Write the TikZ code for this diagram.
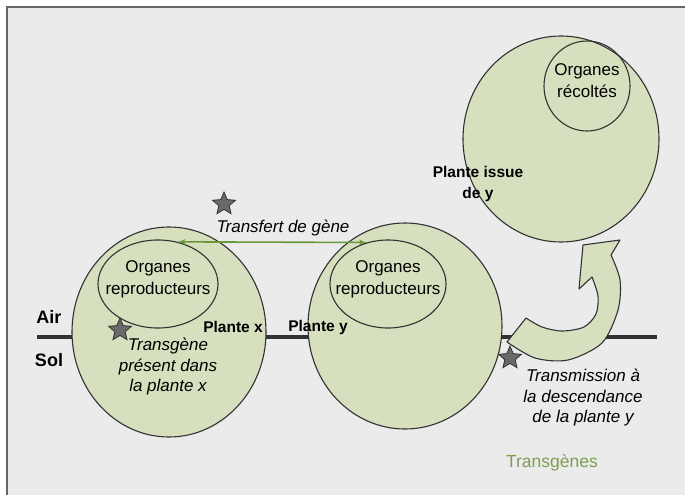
\documentclass[tikz,border=0pt]{standalone}
\usepackage{fontspec}
\setmainfont{Liberation Sans}
\usetikzlibrary{shapes,arrows,positioning,backgrounds,calc}
\definecolor{bggray}{RGB}{235,235,235}
\definecolor{leaf}{RGB}{214,223,190}
\definecolor{ink}{RGB}{50,50,50}
\definecolor{genegreen}{RGB}{104,152,56}
\definecolor{tgreen}{RGB}{125,160,80}
\definecolor{stargray}{RGB}{105,105,105}
\newcommand{\plantsz}{17}
\newcommand{\mplant}[4]{
  \node [plantbody,minimum width=#2,minimum height=#3] (#4) at #1 {};
}
\newcommand{\morgan}[5]{
  \node [organbody,minimum width=#2,minimum height=#3] (#4) at #1 {};
  \node [organtext] (#4t) at ($(#4)+(0,-5)$) {#5};
}

\begin{document}
\begin{tikzpicture}[x=1pt,y=-1pt,>=latex',
  plantbody/.style={ellipse,draw=ink,fill=leaf,line width=1.1pt,inner sep=0},
  organbody/.style={ellipse,draw=ink,line width=1.1pt,inner sep=0},
  organtext/.style={align=center,font=\fontsize{\plantsz}{22}\selectfont},
  boldlbl/.style={align=center,font=\bfseries\fontsize{15.5}{21}\selectfont},
  itlbl/.style={align=center,font=\itshape\fontsize{\plantsz}{20.5}\selectfont},
  markstar/.style={star,star points=5,star point ratio=2.2,minimum size=24,
    inner sep=0,fill=stargray,draw=ink,line width=0.8pt},
  genearrow/.style={<->,genegreen,line width=1.6pt}]
  \useasboundingbox (0,0) rectangle (685,495);
  \clip (0,0) rectangle (685,495);
  \fill [white] (0,0) rectangle (685,495);
  \fill [bggray] (7,7) rectangle (690,500);
  \draw [gray!80!black,line width=1.6pt] (7,500) -- (7,7) -- (690,7);

  % ground line
  \draw [ink,line width=3.5pt] (37,337) -- (657,337);
  \node [font=\bfseries\fontsize{18}{20}\selectfont] (air) at (49,317) {Air};
  \node [font=\bfseries\fontsize{18}{20}\selectfont] (sol) at (49,360) {Sol};

  % plants
  \mplant{(169,332)}{194}{210}{px}
  \mplant{(405,326)}{194}{206}{py}
  \mplant{(561,139)}{196}{206}{pz}
  \morgan{(158,284)}{120}{88}{orgx}{Organes\\reproducteurs}
  \morgan{(388,284)}{116}{88}{orgy}{Organes\\reproducteurs}
  \morgan{(587,86)}{86}{90}{orgz}{Organes\\récoltés}

  \node [boldlbl] (plx) at (233,327) {Plante x};
  \node [boldlbl] (ply) at (318,327) {Plante y};
  \node [boldlbl] (plz) at (478,184) {Plante issue\\de y};

  % gene transfer
  \node [markstar] (s1) at (224,204) {};
  \node [itlbl] (transf) at (283,228) {Transfert de gène};
  \draw [genearrow] (orgx.65) -- (orgy.117);

  \node [markstar] (s2) at (120,330) {};
  \node [itlbl] (tgx) at (168,367) {Transgène\\présent dans\\la plante x};

  % offspring arrow
  \draw [ink,fill=leaf,line width=1.1pt,line join=round]
    (526,318) -- plot [smooth] coordinates {(507,342) (535,358) (568,360) (602,343) (618,310) (620,280) (611,255)}
    -- (620,240) -- (583,245) -- (579,289)
    -- plot [smooth] coordinates {(592,277) (598,296) (596,314) (584,327) (562,331) (542,327) (526,318)}
    -- cycle;

  \node [markstar] (s3) at (510,358) {};
  \node [itlbl] (tmis) at (583,398) {Transmission à\\la descendance\\de la plante y};

  \node [tgreen,font=\fontsize{17.5}{20}\selectfont] (tgs) at (552,463) {Transgènes};
\end{tikzpicture}
\end{document}
